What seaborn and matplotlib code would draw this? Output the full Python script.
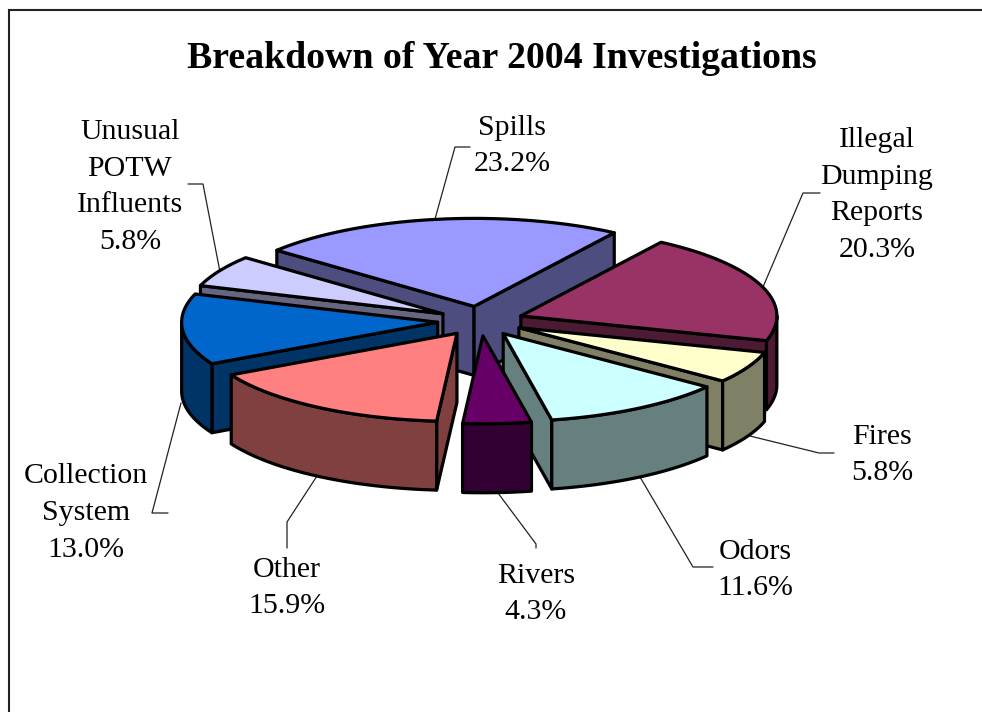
import numpy as np
import matplotlib
matplotlib.use("Agg")
import matplotlib.pyplot as plt
from matplotlib.patches import Polygon
import seaborn as sns

# Investigation categories and their share of the year's total, in percent
categories = ["Spills", "Illegal\nDumping\nReports", "Fires", "Odors", "Rivers",
              "Other", "Collection\nSystem", "Unusual\nPOTW\nInfluents"]
shares = [23.2, 20.3, 5.8, 11.6, 4.3, 15.9, 13.0, 5.8]
top_colors = ["#9999FF", "#993366", "#FFFFCC", "#CCFFFF", "#660066",
              "#FF8080", "#0066CC", "#CCCCFF"]
side_colors = ["#4D4D80", "#4D1A33", "#808066", "#668080", "#330033",
               "#804040", "#003366", "#666680"]
title_text = "Breakdown of Year 2004 Investigations"

# Projection of the tilted pie, in figure pixels
CX, CY = 480.5, 321.0
RX, RY = 256.0, 88.0
DEPTH = 69.0
EXPLODE = 43.0
START_DEG = -50.4

# Label centres and leader-line paths, in figure pixels
label_xy = [(512, 146), (877, 195), (882, 455), (755, 570), (536, 594),
            (287, 588), (86, 513), (130, 187)]
leader_paths = [
    [(470, 147), (455, 147), (435, 219)],
    [(820, 193), (803, 193), (763, 287)],
    [(834, 453), (819, 453), (750, 436)],
    [(713, 567), (693, 567), (640, 477)],
    [(536, 548), (536, 544), (498, 493)],
    [(287, 548), (287, 522), (317, 476)],
    [(168, 513), (152, 513), (181, 403)],
    [(188, 184), (203, 184), (220, 272)],
]

sns.set_style("white")
plt.rcParams["font.family"] = ["Liberation Serif", "DejaVu Serif"]
top_palette = sns.color_palette(top_colors)
side_palette = sns.color_palette(side_colors)

fig = plt.figure(figsize=(9.82, 7.12), dpi=100)
ax = fig.add_axes([0, 0, 1, 1])
ax.set_xlim(0, 982)
ax.set_ylim(712, 0)
ax.axis("off")

# Chart frame, running off the right and bottom edges
ax.plot([9.5, 9.5, 982], [712, 9.5, 9.5], color="#222222", lw=1.5,
        solid_joinstyle="miter", zorder=1)


def rim_point(apex, deg):
    t = np.radians(deg)
    return apex + np.column_stack([RX * np.sin(t), -RY * np.cos(t)])


def face(points, color, zorder):
    ax.add_patch(Polygon(points, closed=True, facecolor=color, edgecolor="black",
                         lw=2.3, joinstyle="round", zorder=zorder))


# Angular extent of every slice, clockwise from the back of the pie
edges = START_DEG + np.cumsum([0.0] + list(shares)) / sum(shares) * 360.0
wedges = []
for i in range(len(shares)):
    t0, t1 = edges[i], edges[i + 1]
    mid = np.radians((t0 + t1) / 2)
    apex = np.array([CX + EXPLODE * np.sin(mid),
                     CY - EXPLODE * RY / RX * np.cos(mid)])
    depth_key = apex[1] - RY * np.cos(mid) * 0.6
    wedges.append((depth_key, i, t0, t1, apex))

# Paint slices from back to front
drop = np.array([0.0, DEPTH])
for order, (_, i, t0, t1, apex) in enumerate(sorted(wedges, key=lambda w: w[0])):
    z = 3 + order
    top = top_palette[i]
    side = side_palette[i]
    arc = rim_point(apex, np.linspace(t0, t1, 80))

    # Cut faces that turn toward the viewer
    if np.sin(np.radians(t0)) < 0:
        p = arc[0]
        face([apex, p, p + drop, apex + drop], side, z)
    if np.sin(np.radians(t1)) > 0:
        p = arc[-1]
        face([apex, p, p + drop, apex + drop], side, z)

    # Outer wall along the front half of the rim
    lo, hi = max(t0, 90.0), min(t1, 270.0)
    if lo < hi:
        wall = rim_point(apex, np.linspace(lo, hi, 60))
        face(np.vstack([wall, (wall + drop)[::-1]]), side, z)

    face(np.vstack([apex[None, :], arc]), top, z)

# Leader lines and value labels
for path in leader_paths:
    xs, ys = zip(*path)
    ax.plot(xs, ys, color="#222222", lw=0.9, zorder=2)

total = sum(shares)
for name, value, (x, y) in zip(categories, shares, label_xy):
    ax.text(x, y, f"{name}\n{value / total * 100:.1f}%", ha="center", va="center",
            fontsize=21.5, linespacing=1.54, color="black", zorder=20)

ax.text(502, 59, title_text, ha="center", va="center", fontsize=27.2,
        fontweight="bold", color="black", zorder=20)

fig.savefig("out.png", dpi=100, facecolor="white")
